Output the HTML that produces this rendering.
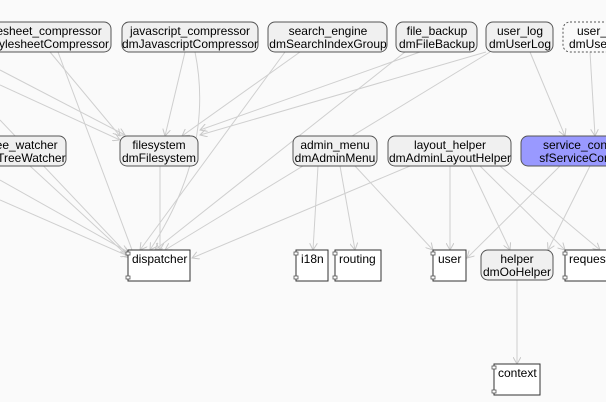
<!DOCTYPE html>
<html><head><style>body{margin:0;background:#fafafa}svg{display:block}text{font-family:"Liberation Sans",sans-serif;font-size:12px;fill:#000;text-anchor:middle}</style></head><body>
<svg width="606" height="402" viewBox="0 0 606 402">
<defs><marker id="a" markerWidth="8" markerHeight="8" refX="7" refY="4" orient="auto"><path d="M0,0 L7,4 L0,8" fill="none" stroke="#c8c8c8"/></marker></defs>
<g stroke="#cfcfcf" fill="none" marker-end="url(#a)">
<path d="M0,70 L125,135"/><path d="M0,85 L120,140"/>
<path d="M50,52 L120,136"/><path d="M58,52 L135,258"/><path d="M0,120 L128,255"/>
<path d="M0,180 L128,252"/><path d="M0,200 L128,256"/><path d="M30,166 L130,258"/>
<path d="M185,52 L165,136"/><path d="M195,52 Q215,150 150,250"/>
<path d="M300,52 L182,136"/><path d="M285,52 L140,250"/>
<path d="M420,52 L200,130"/><path d="M405,52 L155,250"/>
<path d="M486,52 L200,135"/><path d="M490,52 L165,250"/>
<path d="M530,52 L565,136"/><path d="M590,52 L595,136"/>
<path d="M160,166 L160,250"/>
<path d="M318,166 L313,250"/><path d="M340,166 L355,250"/><path d="M355,166 L433,250"/>
<path d="M410,166 L192,258"/>
<path d="M450,166 L450,250"/><path d="M470,166 L510,250"/><path d="M480,166 L565,250"/><path d="M500,166 L600,250"/>
<path d="M560,166 L467,258"/><path d="M590,166 L548,250"/>
<path d="M517,280 L517,364"/>
</g>
<g stroke="#555" fill="#f0f0f0">
<rect x="-30" y="22" width="141" height="30" rx="7"/>
<rect x="122" y="22" width="136" height="30" rx="7"/>
<rect x="268" y="22" width="119" height="30" rx="7"/>
<rect x="396" y="22" width="81" height="30" rx="7"/>
<rect x="486" y="22" width="67" height="30" rx="7"/>
<rect x="563" y="22" width="60" height="30" rx="7" stroke-dasharray="2,2" fill="#fafafa"/>
<rect x="-20" y="136" width="86" height="30" rx="7"/>
<rect x="120" y="136" width="78" height="30" rx="7"/>
<rect x="293" y="136" width="84" height="30" rx="7"/>
<rect x="388" y="136" width="123" height="30" rx="7"/>
<rect x="521" y="136" width="100" height="30" rx="7" fill="#9999ff"/>
<rect x="481" y="250" width="72" height="30" rx="7"/>
</g>
<g stroke="#333" fill="#fff">
<rect x="128" y="250" width="62" height="31"/>
<rect x="296" y="250" width="32" height="31"/>
<rect x="335" y="250" width="46" height="31"/>
<rect x="433" y="250" width="33" height="31"/>
<rect x="565" y="250" width="50" height="31"/>
<rect x="494" y="364" width="46" height="31"/>
</g>
<g stroke="#555" fill="#fff" stroke-width="0.8">
<rect x="126" y="252" width="4" height="3"/><rect x="126" y="276" width="4" height="3"/>
<rect x="294" y="252" width="4" height="3"/><rect x="294" y="276" width="4" height="3"/>
<rect x="333" y="252" width="4" height="3"/><rect x="333" y="276" width="4" height="3"/>
<rect x="431" y="252" width="4" height="3"/><rect x="431" y="276" width="4" height="3"/>
<rect x="563" y="252" width="4" height="3"/><rect x="563" y="276" width="4" height="3"/>
<rect x="492" y="366" width="4" height="3"/><rect x="492" y="390" width="4" height="3"/>
</g>
<text x="40" y="35">stylesheet_compressor</text><text x="40" y="48">dmStylesheetCompressor</text>
<text x="190" y="35">javascript_compressor</text><text x="190" y="48">dmJavascriptCompressor</text>
<text x="328" y="35">search_engine</text><text x="328" y="48">dmSearchIndexGroup</text>
<text x="437" y="35">file_backup</text><text x="437" y="48">dmFileBackup</text>
<text x="520" y="35">user_log</text><text x="520" y="48">dmUserLog</text>
<text x="600" y="35">user_log</text><text x="600" y="48">dmUserLog</text>
<text x="23" y="149">tree_watcher</text><text x="23" y="162">dmTreeWatcher</text>
<text x="159" y="149">filesystem</text><text x="159" y="162">dmFilesystem</text>
<text x="335" y="149">admin_menu</text><text x="335" y="162">dmAdminMenu</text>
<text x="450" y="149">layout_helper</text><text x="450" y="162">dmAdminLayoutHelper</text>
<text x="590" y="149">service_container</text><text x="590" y="162">sfServiceContainer</text>
<text x="517" y="263">helper</text><text x="517" y="276">dmOoHelper</text>
<text x="132" y="263" style="text-anchor:start">dispatcher</text>
<text x="301" y="263" style="text-anchor:start">i18n</text>
<text x="339" y="263" style="text-anchor:start">routing</text>
<text x="438" y="263" style="text-anchor:start">user</text>
<text x="569" y="263" style="text-anchor:start">request</text>
<text x="498" y="377" style="text-anchor:start">context</text>
</svg></body></html>
